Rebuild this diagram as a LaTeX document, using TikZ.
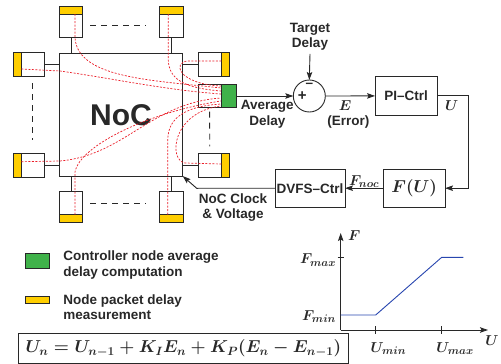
\documentclass[tikz,border=0pt]{standalone}
\usepackage{fontspec}
\setsansfont{Liberation Sans}
\usetikzlibrary{positioning,arrows.meta,calc}
\definecolor{MeasYellow}{RGB}{255,206,0}
\definecolor{CtrlGreen}{RGB}{64,178,74}
\definecolor{PathRed}{RGB}{235,30,40}
\definecolor{CurveBlue}{RGB}{40,70,175}
\definecolor{EdgeGray}{RGB}{40,40,40}

\begin{document}
\begin{tikzpicture}[x=1pt,y=-1pt, line width=0.9pt, color=EdgeGray,
  every node/.style={font=\sffamily\bfseries\fontsize{13.5}{15.5}\selectfont, align=center, inner sep=0pt, outer sep=0pt},
  rbox/.style={draw=EdgeGray, fill=white},
  meas/.style={draw=EdgeGray, fill=MeasYellow},
  blk/.style={draw=EdgeGray, fill=white, minimum height=38.3pt},
  pkt/.style={PathRed, line width=0.7pt, dash pattern=on 2pt off 1.5pt},
  gap/.style={dash pattern=on 6pt off 5pt},
  mlbl/.style={font=\fontsize{15}{17}\selectfont\boldmath},
  >={Stealth[length=8pt,width=5.5pt,inset=1.5pt]}]
  \useasboundingbox (0,0) rectangle (501,364);

  % network and its nodes
  \node[rbox, minimum width=123.4pt, minimum height=122.7pt, font=\sffamily\bfseries\fontsize{30}{32}\selectfont] (noc) at (121,114.7) {NoC};

  \node[meas, minimum width=23.4pt, minimum height=8pt] (tlm) at (71,10) {};
  \node[rbox, minimum width=23.4pt, minimum height=23.3pt, below=0pt of tlm] (tl) {};
  \node[meas, minimum width=23.4pt, minimum height=8pt] (trm) at (171.3,10) {};
  \node[rbox, minimum width=23.4pt, minimum height=23.3pt, below=0pt of trm] (tr) {};
  \node[meas, minimum width=23.4pt, minimum height=8pt] (blm) at (71,218.7) {};
  \node[rbox, minimum width=23.4pt, minimum height=23.3pt, above=0pt of blm] (bl) {};
  \node[meas, minimum width=23.4pt, minimum height=8pt] (brm) at (171.3,218.7) {};
  \node[rbox, minimum width=23.4pt, minimum height=23.3pt, above=0pt of brm] (br) {};

  \node[meas, minimum width=8pt, minimum height=24pt] (lum) at (17.3,64.7) {};
  \node[rbox, minimum width=23pt, minimum height=24pt, right=0pt of lum] (lu) {};
  \node[meas, minimum width=8pt, minimum height=24pt] (llm) at (17.3,165) {};
  \node[rbox, minimum width=23pt, minimum height=24pt, right=0pt of llm] (ll) {};
  \node[meas, minimum width=8pt, minimum height=24pt] (rum) at (225.3,64.7) {};
  \node[rbox, minimum width=23pt, minimum height=24pt, left=0pt of rum] (ru) {};
  \node[meas, minimum width=8pt, minimum height=24pt] (rlm) at (225.3,165) {};
  \node[rbox, minimum width=23pt, minimum height=24pt, left=0pt of rlm] (rl) {};

  \node[draw=EdgeGray, fill=CtrlGreen, minimum width=15.7pt, minimum height=23.4pt] (ctrl) at (228.8,96) {};
  \node[rbox, minimum width=22.7pt, minimum height=23.4pt, left=0pt of ctrl] (cbox) {};

  \draw (tl.south) -- (tl.south |- noc.north);
  \draw (tr.south) -- (tr.south |- noc.north);
  \draw (bl.north) -- (bl.north |- noc.south);
  \draw (br.north) -- (br.north |- noc.south);
  \draw (lu.east) -- (lu.east -| noc.west);
  \draw (ll.east) -- (ll.east -| noc.west);
  \draw (ru.west) -- (ru.west -| noc.east);
  \draw (rl.west) -- (rl.west -| noc.east);

  \draw[gap, shorten <=7.3pt, shorten >=13.3pt] (tl.east) -- (tr.west);
  \draw[gap, shorten <=7.3pt, shorten >=13.3pt] (bl.east) -- (br.west);
  \draw[gap, shorten <=6.3pt, shorten >=13.3pt] (lu.south) -- (ll.north);
  \draw[gap, shorten <=4pt, shorten >=6.6pt] (cbox.south) -- (rl.north);

  % packet delay paths
  \draw[pkt] ($(tlm.south)+(4,0)$) -- (75,38) .. controls (78,78) and (150,80) .. ($(ctrl.west)+(0,-8)$);
  \draw[pkt] ($(trm.south)+(-3,0)$) -- (168.3,60) .. controls (169,80) and (185,88) .. ($(ctrl.west)+(0,-5)$);
  \draw[pkt] ($(lum.east)+(0,4.3)$) -- (60,71) .. controls (110,78) and (165,90) .. ($(ctrl.west)+(0,-2)$);
  \draw[pkt] ($(rum.west)+(0,-3.7)$) -- (188,61) .. controls (172,62) and (178,84) .. ($(ctrl.west)+(0,-10)$);
  \draw[pkt] ($(llm.east)+(0,-3.3)$) -- (60,161) .. controls (125,155) and (150,103) .. ($(ctrl.west)+(0,2)$);
  \draw[pkt] ($(blm.north)+(4,0)$) -- (75,172) .. controls (80,145) and (150,112) .. ($(ctrl.west)+(0,5)$);
  \draw[pkt] ($(brm.north)+(-3.6,0)$) -- (167.7,140) .. controls (168,115) and (190,106) .. ($(ctrl.west)+(0,8)$);
  \draw[pkt] ($(rlm.west)+(0,-1)$) -- (185,163) .. controls (168,160) and (172,112) .. ($(ctrl.west)+(0,10)$);

  % control loop
  \node[draw=EdgeGray, fill=white, circle, minimum size=32pt] (sum) at (309.3,96) {};
  \node[font=\sffamily\bfseries\fontsize{15}{17}\selectfont] (plus) at ($(sum.center)+(-7,0)$) {+};
  \node (minus) at ($(sum.center)+(0,-11)$) {--};
  \node (target) at (310,37) {Target\\Delay};
  \draw[->] ($(target.south)+(0,3)$) -- (sum.north);
  \draw[->] (ctrl.east) -- (sum.west);
  \node (avg) at (267.3,114.5) {Average\\Delay};

  \node[blk, minimum width=62.3pt] (pi) at (406.2,95.9) {PI--Ctrl};
  \draw[->] (sum.east) -- (pi.west);
  \node[mlbl] (elbl) at (345,106) {$E$};
  \node (err) at (348.3,122.3) {(Error)};
  \node[mlbl] (ulbl) at (451.7,106) {$U$};

  \node[blk, minimum width=61.7pt, font=\fontsize{16}{18}\selectfont\boldmath] (fu) at (414.2,188.2) {$F(U)$};
  \node[blk, minimum width=70pt] (dvfs) at (310,188.2) {DVFS--Ctrl};
  \draw[->] (pi.east) -- ($(pi.east)+(31,0)$) |- (fu.east);
  \draw[->] (fu.west) -- node[above=1pt, mlbl]{$F_{noc}$} (dvfs.east);
  \coordinate (clk) at (196.7,188.3);
  \draw[->] (dvfs.west) -- (clk) -- (noc.south east);
  \node (clklbl) at (233,207.5) {NoC Clock\\\& Voltage};

  % legend
  \node[draw=EdgeGray, fill=CtrlGreen, minimum width=24pt, minimum height=15pt] (lgreen) at (37,260.8) {};
  \node[anchor=west, align=left] (lgtxt) at (63.3,264.8) {Controller node average\\delay computation};
  \node[meas, minimum width=24pt, minimum height=6.6pt] (lyellow) at (37,300) {};
  \node[anchor=west, align=left] (lytxt) at (63.3,307.2) {Node packet delay\\measurement};

  \node[draw=EdgeGray, minimum width=330pt, minimum height=30pt, font=\fontsize{17}{19}\selectfont\boldmath] (eq) at (183.3,348.4) {$U_n = U_{n-1} + K_I E_n + K_P(E_n - E_{n-1})$};

  % F(U) characteristic
  \coordinate (o) at (340.7,330);
  \coordinate (ytop) at (340.7,233);
  \coordinate (xend) at (488,330);
  \coordinate (pstart) at (340.7,315);
  \coordinate (pmin) at (375.7,315);
  \coordinate (pmax) at (441.7,257.3);
  \coordinate (pend) at (463.3,257.3);
  \draw[->] (o) -- (ytop);
  \draw[->] (o) -- (xend);
  \draw[CurveBlue] (pstart) -- (pmin) -- (pmax) -- (pend);
  \draw ($(o |- pmax)+(-3,0)$) -- +(6,0);
  \draw ($(o -| pmin)+(0,-4)$) -- +(0,8);
  \draw ($(o -| pmax)+(0,-4)$) -- +(0,8);
  \node[mlbl, anchor=west] (flbl) at (348,236) {$F$};
  \node[mlbl] (uaxis) at (492,341) {$U$};
  \node[mlbl, anchor=east] (fmax) at (336,260) {$F_{max}$};
  \node[mlbl, anchor=east] (fmin) at (336,316.7) {$F_{min}$};
  \node[mlbl] (umin) at (388.3,348.3) {$U_{min}$};
  \node[mlbl] (umax) at (455,348.3) {$U_{max}$};
\end{tikzpicture}
\end{document}
